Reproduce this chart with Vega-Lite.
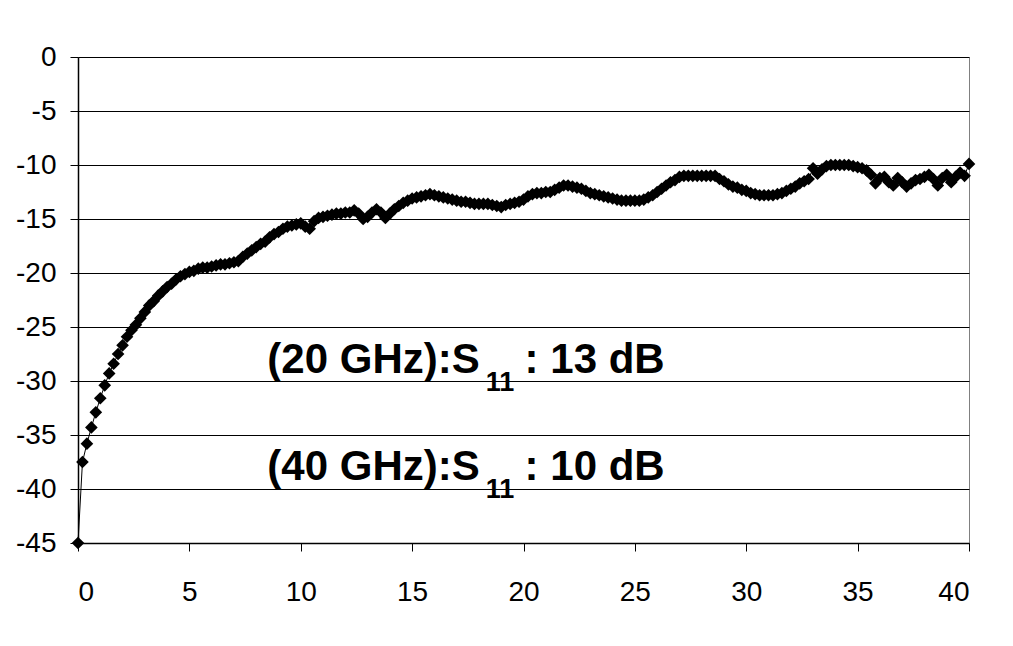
{
  "$schema": "https://vega.github.io/schema/vega-lite/v6.json",
  "autosize": "none",
  "width": 891,
  "height": 486,
  "padding": {"left": 78, "top": 57, "right": 44, "bottom": 103},
  "background": "white",
  "config": {
    "view": {"stroke": "#808080", "strokeWidth": 1},
    "axis": {
      "labelFont": "Liberation Sans",
      "labelFontSize": 28,
      "labelColor": "black",
      "tickColor": "black",
      "domainColor": "black",
      "tickSize": 8,
      "title": null
    }
  },
  "datasets": {
    "s11": [
      {"f":0,"s":-45},{"f":0.2,"s":-37.5},{"f":0.4,"s":-35.8},{"f":0.6,"s":-34.3},{"f":0.8,"s":-32.9},
      {"f":1.0,"s":-31.6},{"f":1.2,"s":-30.4},{"f":1.4,"s":-29.3},{"f":1.6,"s":-28.4},{"f":1.8,"s":-27.5},
      {"f":2.0,"s":-26.7},{"f":2.2,"s":-25.9},{"f":2.4,"s":-25.3},{"f":2.6,"s":-24.8},{"f":2.8,"s":-24.2},
      {"f":3.0,"s":-23.6},{"f":3.2,"s":-23.0},{"f":3.4,"s":-22.6},{"f":3.6,"s":-22.1},{"f":3.8,"s":-21.7},
      {"f":4.0,"s":-21.3},{"f":4.2,"s":-21.0},{"f":4.4,"s":-20.6},{"f":4.6,"s":-20.3},{"f":4.8,"s":-20.1},
      {"f":5.0,"s":-19.9},{"f":5.2,"s":-19.8},{"f":5.4,"s":-19.6},{"f":5.6,"s":-19.5},{"f":5.8,"s":-19.5},
      {"f":6.0,"s":-19.4},{"f":6.2,"s":-19.3},{"f":6.4,"s":-19.2},{"f":6.6,"s":-19.2},{"f":6.8,"s":-19.1},
      {"f":7.0,"s":-19.0},{"f":7.2,"s":-18.9},{"f":7.4,"s":-18.5},{"f":7.6,"s":-18.2},{"f":7.8,"s":-17.9},
      {"f":8.0,"s":-17.6},{"f":8.2,"s":-17.3},{"f":8.4,"s":-17.1},{"f":8.6,"s":-16.7},{"f":8.8,"s":-16.4},
      {"f":9.0,"s":-16.2},{"f":9.2,"s":-15.9},{"f":9.4,"s":-15.7},{"f":9.6,"s":-15.6},{"f":9.8,"s":-15.5},
      {"f":10.0,"s":-15.4},{"f":10.2,"s":-15.7},{"f":10.4,"s":-15.9},{"f":10.6,"s":-15.2},{"f":10.8,"s":-14.9},
      {"f":11.0,"s":-14.8},{"f":11.2,"s":-14.7},{"f":11.4,"s":-14.6},{"f":11.6,"s":-14.5},{"f":11.8,"s":-14.5},
      {"f":12.0,"s":-14.4},{"f":12.2,"s":-14.4},{"f":12.4,"s":-14.2},{"f":12.6,"s":-14.5},{"f":12.8,"s":-15.0},
      {"f":13.0,"s":-14.8},{"f":13.2,"s":-14.4},{"f":13.4,"s":-14.1},{"f":13.6,"s":-14.4},{"f":13.8,"s":-14.9},
      {"f":14.0,"s":-14.5},{"f":14.2,"s":-14.1},{"f":14.4,"s":-13.8},{"f":14.6,"s":-13.5},{"f":14.8,"s":-13.3},
      {"f":15.0,"s":-13.1},{"f":15.2,"s":-13.0},{"f":15.4,"s":-12.9},{"f":15.6,"s":-12.8},{"f":15.8,"s":-12.7},
      {"f":16.0,"s":-12.8},{"f":16.2,"s":-12.9},{"f":16.4,"s":-13.0},{"f":16.6,"s":-13.1},{"f":16.8,"s":-13.2},
      {"f":17.0,"s":-13.3},{"f":17.2,"s":-13.4},{"f":17.4,"s":-13.4},{"f":17.6,"s":-13.5},{"f":17.8,"s":-13.6},
      {"f":18.0,"s":-13.6},{"f":18.2,"s":-13.6},{"f":18.4,"s":-13.6},{"f":18.6,"s":-13.7},{"f":18.8,"s":-13.8},
      {"f":19.0,"s":-13.9},{"f":19.2,"s":-13.7},{"f":19.4,"s":-13.6},{"f":19.6,"s":-13.5},{"f":19.8,"s":-13.4},
      {"f":20.0,"s":-13.2},{"f":20.2,"s":-12.9},{"f":20.4,"s":-12.7},{"f":20.6,"s":-12.6},{"f":20.8,"s":-12.6},
      {"f":21.0,"s":-12.5},{"f":21.2,"s":-12.5},{"f":21.4,"s":-12.3},{"f":21.6,"s":-12.1},{"f":21.8,"s":-11.9},
      {"f":22.0,"s":-11.9},{"f":22.2,"s":-12.0},{"f":22.4,"s":-12.1},{"f":22.6,"s":-12.2},{"f":22.8,"s":-12.4},
      {"f":23.0,"s":-12.6},{"f":23.2,"s":-12.7},{"f":23.4,"s":-12.8},{"f":23.6,"s":-12.9},{"f":23.8,"s":-13.0},
      {"f":24.0,"s":-13.1},{"f":24.2,"s":-13.2},{"f":24.4,"s":-13.3},{"f":24.6,"s":-13.3},{"f":24.8,"s":-13.3},
      {"f":25.0,"s":-13.3},{"f":25.2,"s":-13.3},{"f":25.4,"s":-13.2},{"f":25.6,"s":-13.0},{"f":25.8,"s":-12.8},
      {"f":26.0,"s":-12.5},{"f":26.2,"s":-12.2},{"f":26.4,"s":-11.9},{"f":26.6,"s":-11.6},{"f":26.8,"s":-11.4},
      {"f":27.0,"s":-11.1},{"f":27.2,"s":-11.0},{"f":27.4,"s":-11.0},{"f":27.6,"s":-11.0},{"f":27.8,"s":-11.0},
      {"f":28.0,"s":-11.0},{"f":28.2,"s":-11.0},{"f":28.4,"s":-11.0},{"f":28.6,"s":-11.0},{"f":28.8,"s":-11.3},
      {"f":29.0,"s":-11.5},{"f":29.2,"s":-11.8},{"f":29.4,"s":-12.0},{"f":29.6,"s":-12.1},{"f":29.8,"s":-12.3},
      {"f":30.0,"s":-12.4},{"f":30.2,"s":-12.6},{"f":30.4,"s":-12.7},{"f":30.6,"s":-12.8},{"f":30.8,"s":-12.8},
      {"f":31.0,"s":-12.8},{"f":31.2,"s":-12.8},{"f":31.4,"s":-12.7},{"f":31.6,"s":-12.6},{"f":31.8,"s":-12.4},
      {"f":32.0,"s":-12.2},{"f":32.2,"s":-12.0},{"f":32.4,"s":-11.7},{"f":32.6,"s":-11.5},{"f":32.8,"s":-11.3},
      {"f":33.0,"s":-10.3},{"f":33.2,"s":-10.8},{"f":33.4,"s":-10.4},{"f":33.6,"s":-10.1},{"f":33.8,"s":-10.0},
      {"f":34.0,"s":-10.0},{"f":34.2,"s":-10.0},{"f":34.4,"s":-10.0},{"f":34.6,"s":-10.0},{"f":34.8,"s":-10.1},
      {"f":35.0,"s":-10.2},{"f":35.2,"s":-10.3},{"f":35.4,"s":-10.5},{"f":35.6,"s":-10.9},{"f":35.8,"s":-11.7},
      {"f":36.0,"s":-11.2},{"f":36.2,"s":-11.1},{"f":36.4,"s":-11.6},{"f":36.6,"s":-11.9},{"f":36.8,"s":-11.2},
      {"f":37.0,"s":-11.6},{"f":37.2,"s":-12.0},{"f":37.4,"s":-11.7},{"f":37.6,"s":-11.4},{"f":37.8,"s":-11.3},
      {"f":38.0,"s":-11.1},{"f":38.2,"s":-10.9},{"f":38.4,"s":-11.3},{"f":38.6,"s":-11.9},{"f":38.8,"s":-11.2},
      {"f":39.0,"s":-10.9},{"f":39.2,"s":-11.6},{"f":39.4,"s":-11.1},{"f":39.6,"s":-10.7},{"f":39.8,"s":-11.0},
      {"f":40.0,"s":-9.9}
    ],
    "notes": [
      {"x": 8.5, "y": -29.3, "t": "(20 GHz):S", "part": "main"},
      {"x": 18.3, "y": -30.9, "t": "11", "part": "sub"},
      {"x": 20.05, "y": -29.3, "t": ": 13 dB", "part": "main"},
      {"x": 8.5, "y": -39.2, "t": "(40 GHz):S", "part": "main"},
      {"x": 18.3, "y": -40.8, "t": "11", "part": "sub"},
      {"x": 20.05, "y": -39.2, "t": ": 10 dB", "part": "main"}
    ]
  },
  "layer": [
    {
      "data": {"name": "s11"},
      "mark": {"type": "line", "color": "black", "strokeWidth": 1},
      "encoding": {
        "x": {"field": "f", "type": "quantitative",
              "scale": {"domain": [0, 40], "nice": false, "zero": false},
              "axis": {"values": [0,5,10,15,20,25,30,35,40], "grid": false, "labelPadding": 27, "domainWidth": 1.5, "labelExpr": "'' + datum.value"}},
        "y": {"field": "s", "type": "quantitative",
              "scale": {"domain": [-45, 0], "nice": false, "zero": false},
              "axis": {"values": [0,-5,-10,-15,-20,-25,-30,-35,-40,-45], "grid": true, "gridColor": "black", "gridWidth": 1, "labelPadding": 14, "domainWidth": 1.5, "labelExpr": "'' + datum.value"}}
      }
    },
    {
      "data": {"name": "s11"},
      "mark": {"type": "point", "shape": "diamond", "filled": true, "color": "black", "size": 160, "opacity": 1},
      "encoding": {
        "x": {"field": "f", "type": "quantitative"},
        "y": {"field": "s", "type": "quantitative"}
      }
    },
    {
      "data": {"name": "notes"},
      "transform": [{"filter": "datum.part === 'main'"}],
      "mark": {"type": "text", "font": "Liberation Sans", "fontWeight": "bold", "fontSize": 42, "align": "left", "baseline": "alphabetic", "color": "black"},
      "encoding": {
        "x": {"field": "x", "type": "quantitative"},
        "y": {"field": "y", "type": "quantitative"},
        "text": {"field": "t"}
      }
    },
    {
      "data": {"name": "notes"},
      "transform": [{"filter": "datum.part === 'sub'"}],
      "mark": {"type": "text", "font": "Liberation Sans", "fontWeight": "bold", "fontSize": 27, "align": "left", "baseline": "alphabetic", "color": "black"},
      "encoding": {
        "x": {"field": "x", "type": "quantitative"},
        "y": {"field": "y", "type": "quantitative"},
        "text": {"field": "t"}
      }
    }
  ]
}
